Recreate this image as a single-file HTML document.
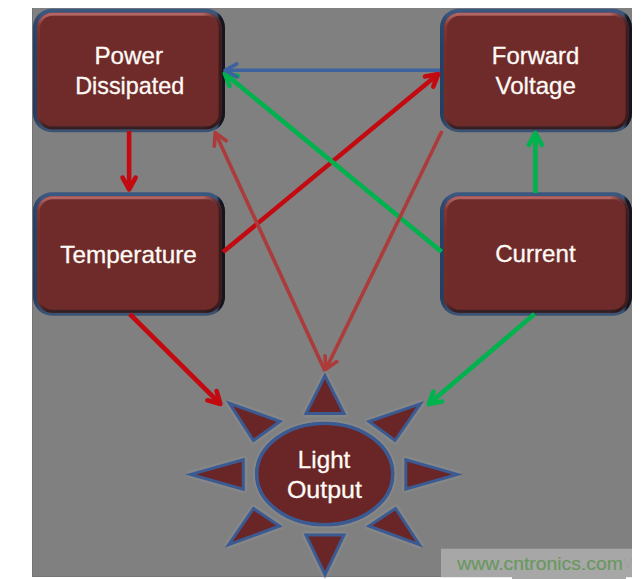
<!DOCTYPE html>
<html><head><meta charset="utf-8">
<style>
html,body{margin:0;padding:0;background:#fff;width:642px;height:579px;overflow:hidden}
svg{position:absolute;left:0;top:0;display:block}
text{font-family:"Liberation Sans",sans-serif;fill:#fffaf6;stroke:#fffaf6;stroke-width:0.3px;font-size:23.8px}
</style></head><body>
<svg width="642" height="579" viewBox="0 0 642 579">
<defs>
  <linearGradient id="olv" gradientUnits="userSpaceOnUse" x1="0" y1="0" x2="0" y2="123.5">
    <stop offset="0" stop-color="#3a5880"/>
    <stop offset="0.3" stop-color="#2f4b72"/>
    <stop offset="0.85" stop-color="#2c4668"/>
    <stop offset="1" stop-color="#3c5474"/>
  </linearGradient>
  <linearGradient id="olh" gradientUnits="userSpaceOnUse" x1="0" y1="0" x2="192" y2="0">
    <stop offset="0" stop-color="#1e3050" stop-opacity="0.45"/>
    <stop offset="0.02" stop-color="#1e3050" stop-opacity="0.3"/>
    <stop offset="0.04" stop-color="#1e3050" stop-opacity="0"/>
    <stop offset="0.955" stop-color="#15151f" stop-opacity="0"/>
    <stop offset="0.975" stop-color="#15151f" stop-opacity="1"/>
    <stop offset="1" stop-color="#15151f" stop-opacity="1"/>
  </linearGradient>
  <linearGradient id="bevv" gradientUnits="userSpaceOnUse" x1="0" y1="4" x2="0" y2="120.5">
    <stop offset="0" stop-color="#b86866"/>
    <stop offset="0.04" stop-color="#a85a58"/>
    <stop offset="0.12" stop-color="#8a3a36" stop-opacity="0.7"/>
    <stop offset="0.3" stop-color="#7e2e26" stop-opacity="0.5"/>
    <stop offset="0.9" stop-color="#7e2e26" stop-opacity="0.3"/>
    <stop offset="0.96" stop-color="#2e1e22" stop-opacity="0.6"/>
    <stop offset="1" stop-color="#2e1e22"/>
  </linearGradient>
  <linearGradient id="bevh" gradientUnits="userSpaceOnUse" x1="4" y1="0" x2="188.5" y2="0">
    <stop offset="0" stop-color="#000" stop-opacity="0"/>
    <stop offset="0.9" stop-color="#000" stop-opacity="0"/>
    <stop offset="0.975" stop-color="#2a1418" stop-opacity="0.6"/>
    <stop offset="1" stop-color="#2a1418" stop-opacity="0.8"/>
  </linearGradient>
  <g id="box">
    <rect x="0" y="0" width="192" height="123.5" rx="19" fill="url(#olv)"/>
    <rect x="0" y="0" width="192" height="123.5" rx="19" fill="url(#olh)"/>
    <rect x="4" y="4" width="184.5" height="116.5" rx="15.5" fill="#6e2b2a"/>
    <rect x="5.5" y="5.5" width="181.5" height="113.5" rx="14" fill="none" stroke="url(#bevv)" stroke-width="3"/>
    <rect x="5.5" y="5.5" width="181.5" height="113.5" rx="14" fill="none" stroke="url(#bevh)" stroke-width="3"/>
  </g>
<g id="sunshapes">
  <ellipse cx="324.7" cy="474" rx="68" ry="50.6"/>
  <polygon points="325,375.8 306,413.5 344,413.5"/>
  <polygon points="325,574.7 306,535 344,535"/>
  <polygon points="190.8,474.4 243.3,459.8 243.3,489.3"/>
  <polygon points="457.2,474.4 405.8,459.8 405.8,489"/>
  <polygon points="229.5,403.3 280,421.5 253.5,440.5"/>
  <polygon points="420.3,403.8 369,421.5 395,440.5"/>
  <polygon points="228.7,544.7 279.5,526 253.5,508.5"/>
  <polygon points="419.4,544.7 369,526 395.5,508.5"/>
</g>
</defs>
<rect x="32" y="8" width="600" height="569" fill="#808080"/>
<rect x="32" y="8" width="1" height="569" fill="#747474"/>
<rect x="32" y="576" width="480" height="1" fill="#747474"/>

<!-- boxes -->
<use href="#box" x="33" y="8.8"/>
<use href="#box" x="440" y="8.8"/>
<use href="#box" x="33" y="192.2"/>
<use href="#box" x="440" y="192.2"/>

<!-- text -->
<text x="128.7" y="63.8" text-anchor="middle" textLength="68.5" lengthAdjust="spacingAndGlyphs">Power</text>
<text x="129.7" y="93.9" text-anchor="middle" textLength="109" lengthAdjust="spacingAndGlyphs">Dissipated</text>
<text x="535.6" y="63.8" text-anchor="middle" textLength="87.5" lengthAdjust="spacingAndGlyphs">Forward</text>
<text x="535.7" y="93.9" text-anchor="middle" textLength="80.5" lengthAdjust="spacingAndGlyphs">Voltage</text>
<text x="128.6" y="262.6" text-anchor="middle" textLength="136.5" lengthAdjust="spacingAndGlyphs">Temperature</text>
<text x="535.4" y="262.3" text-anchor="middle" textLength="80.5" lengthAdjust="spacingAndGlyphs">Current</text>

<!-- sun -->
<use href="#sunshapes" fill="none" stroke="#a4a8b0" stroke-opacity="0.14" stroke-width="8" stroke-linejoin="round"/>
<use href="#sunshapes" fill="#6a2626" stroke="#3b5a92" stroke-width="3.0" stroke-linejoin="miter"/>
<ellipse cx="324.7" cy="474" rx="68" ry="50.6" fill="none" stroke="#3b5a92" stroke-width="3.4"/>

<text x="324.1" y="467.6" text-anchor="middle" textLength="52.5" lengthAdjust="spacingAndGlyphs">Light</text>
<text x="324.4" y="497.5" text-anchor="middle" textLength="75" lengthAdjust="spacingAndGlyphs">Output</text>

<!-- arrows -->
<g fill="none">
<path stroke="#c20a10" stroke-width="4.6" d="M223.0,252.0 L438.2,74.1"/>
<path stroke="#00b24e" stroke-width="4.6" d="M441.5,251.8 L224.8,73.5"/>
<path stroke="#00b24e" stroke-width="4.6" stroke-linecap="round" stroke-linejoin="round" d="M229.7,86.0 L224.8,73.5 L238.1,75.9"/>
<path stroke="#3d62a0" stroke-width="3.6" d="M440.0,70.3 L225.0,70.3"/>
<path stroke="#3d62a0" stroke-width="3.6" stroke-linecap="round" stroke-linejoin="round" d="M236.8,76.8 L225.0,70.3 L236.8,63.8"/>
<path stroke="#c20a10" stroke-width="4.6" stroke-linecap="round" stroke-linejoin="round" d="M425.0,76.5 L438.2,74.1 L433.3,86.6"/>
<path stroke="#c20a10" stroke-width="4.6" d="M129.1,131.0 L129.1,189.4"/>
<path stroke="#c20a10" stroke-width="4.6" stroke-linecap="round" stroke-linejoin="round" d="M135.6,177.6 L129.1,189.4 L122.6,177.6"/>
<path stroke="#00b24e" stroke-width="4.6" d="M535.4,193.0 L535.4,133.1"/>
<path stroke="#00b24e" stroke-width="4.6" stroke-linecap="round" stroke-linejoin="round" d="M528.9,144.9 L535.4,133.1 L541.9,144.9"/>
<path stroke="#c20a10" stroke-width="4.6" d="M129.7,314.0 L220.4,404.0"/>
<path stroke="#c20a10" stroke-width="4.6" stroke-linecap="round" stroke-linejoin="round" d="M216.6,391.0 L220.4,404.0 L207.4,400.3"/>
<path stroke="#00b24e" stroke-width="4.6" d="M534.5,314.0 L428.8,404.1"/>
<path stroke="#00b24e" stroke-width="4.6" stroke-linecap="round" stroke-linejoin="round" d="M442.0,401.4 L428.8,404.1 L433.5,391.5"/>
<path stroke="#ac3c3c" stroke-width="3.7" d="M325.0,371.0 L215.3,132.7"/>
<path stroke="#ac3c3c" stroke-width="3.7" stroke-linecap="round" stroke-linejoin="round" d="M214.3,146.1 L215.3,132.7 L226.2,140.7"/>
<path stroke="#ac3c3c" stroke-width="3.7" d="M442.0,131.0 L325.8,369.3"/>
<path stroke="#ac3c3c" stroke-width="3.7" stroke-linecap="round" stroke-linejoin="round" d="M336.9,361.6 L325.8,369.3 L325.1,355.9"/>
</g>

<!-- watermark -->
<rect x="441" y="548.7" width="191" height="28.5" fill="#a7a7a7"/>
<rect x="512" y="576" width="114" height="3" fill="#a7a7a7"/>
<text x="457.3" y="569.6" textLength="165.5" lengthAdjust="spacingAndGlyphs" style="font-size:18.6px;fill:#6a9860;stroke:#6a9860;stroke-width:0.2px">www.cntronics.com</text>
<text x="624" y="569.3" style="font-size:19.3px;fill:#a2a2a2;stroke:none">w</text>
<rect x="632" y="540" width="10" height="39" fill="#fff"/>
</svg>
</body></html>
